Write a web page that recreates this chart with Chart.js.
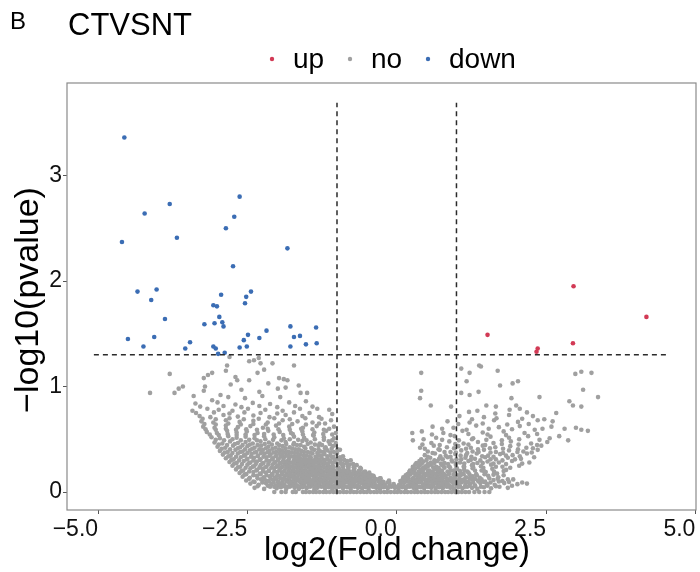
<!DOCTYPE html>
<html>
<head>
<meta charset="utf-8">
<script src="https://cdn.jsdelivr.net/npm/chart.js@4.4.0/dist/chart.umd.min.js"></script>
<style>
  html, body { margin: 0; padding: 0; background: #fff; }
</style>
</head>
<body>
<canvas id="grafico_volcano" width="700" height="572"></canvas>
<script>
const ticksX = [-5, -2.5, 0, 2.5, 5];
const ticksY = [0, 1, 2, 3];

// linhas de corte: |log2FC| = 1 e p = 0.05
const limiarFC = [-1, 1];
const limiarP = 1.301;
const extensaoV = [-0.02, 3.69];
const extensaoH = [-5.07, 4.54];

const pontosUp = [
    [2.96, 1.95], [4.18, 1.66], [1.52, 1.49], [2.95, 1.41], [2.36, 1.36], [2.34, 1.33]
];

const pontosDown = [
    [-4.56, 3.36], [-3.80, 2.73], [-2.63, 2.80], [-4.22, 2.64], [-2.72, 2.61], [-2.86, 2.50],
    [-4.60, 2.37], [-3.68, 2.41], [-1.83, 2.31], [-2.74, 2.14], [-4.34, 1.90], [-4.02, 1.92],
    [-4.11, 1.82], [-2.94, 1.87], [-2.44, 1.90], [-2.52, 1.85], [-2.54, 1.79], [-3.07, 1.77],
    [-3.01, 1.76], [-3.88, 1.64], [-2.97, 1.66], [-3.05, 1.60], [-2.92, 1.61], [-2.90, 1.57],
    [-3.22, 1.59], [-1.78, 1.57], [-1.35, 1.56], [-2.18, 1.53], [-4.50, 1.45], [-4.06, 1.47],
    [-1.72, 1.47], [-1.62, 1.48], [-2.49, 1.49], [-2.56, 1.44], [-2.30, 1.46], [-3.46, 1.42],
    [-3.54, 1.36], [-4.24, 1.38], [-3.07, 1.38], [-3.03, 1.36], [-2.63, 1.37], [-2.51, 1.38],
    [-1.78, 1.38], [-1.52, 1.40], [-1.34, 1.41], [-2.99, 1.31], [-2.88, 1.32]
];

// genes sem diferenca significativa
const pontosNo = [
    [-2.05,0],[-1.93,0],[-1.86,0],[-1.74,0],[-1.69,0],[-1.57,0],[-1.52,0],[-1.46,0],[-1.40,0],[-1.35,0],[-1.29,0],[-1.23,0],[-1.18,0],[-1.12,0],[-1.06,0],[-1.01,0],[-0.95,0],[-0.89,0],[-0.84,0],[-0.78,0],[-0.72,0],[-0.67,0],[-0.61,0],[-0.55,0],[-0.50,0],[-0.44,0],[-0.38,0],[-0.33,0],[-0.27,0],[-0.21,0],[-0.16,0],[-0.10,0],[-0.04,0],[0.01,0],[0.07,0],[0.13,0],[0.18,0],[0.24,0],[0.30,0],[0.35,0],[0.41,0],[0.47,0],[0.52,0],[0.58,0],[0.64,0],[0.69,0],[0.75,0],[0.81,0],[0.86,0],[0.92,0],[0.98,0],[1.03,0],[1.09,0],[1.15,0],[1.21,0],[1.30,0],[1.38,0],[1.47,0],[1.55,0],
    [-2.38,0.04],[-2.22,0.03],[-2.12,0.05],[-2.01,0.035],[-1.94,0.045],[-1.85,0.03],[-1.79,0.05],[-1.71,0.04],[-1.64,0.03],[-1.58,0.045],[-1.51,0.035],[-1.45,0.05],[-1.38,0.03],[-1.33,0.04],[-1.26,0.05],[-1.20,0.035],[-1.14,0.045],[-1.08,0.03],[-1.02,0.04],[-0.96,0.05],[-0.90,0.035],[-0.83,0.045],[-0.77,0.03],[-0.71,0.05],[-0.65,0.04],[-0.58,0.035],[-0.52,0.045],[-0.47,0.03],[-0.40,0.05],[-0.34,0.04],[-0.28,0.03],[-0.22,0.045],[-0.15,0.035],[-0.09,0.05],[-0.03,0.04],[0.03,0.03],[0.09,0.045],[0.15,0.035],[0.22,0.05],[0.28,0.04],[0.33,0.03],[0.40,0.045],[0.46,0.035],[0.52,0.05],[0.58,0.04],[0.65,0.03],[0.71,0.045],[0.77,0.035],[0.84,0.05],[0.90,0.04],[0.96,0.03],[1.03,0.045],[1.10,0.035],[1.18,0.05],[1.26,0.04],[1.35,0.03],[1.46,0.045],[1.58,0.035],[1.72,0.05],[1.86,0.04],
    [-2.33,0.055],[-2.16,0.06],[-2.05,0.05],[-1.97,0.06],[-1.90,0.055],[-1.83,0.05],[-1.76,0.06],[-1.69,0.055],[-1.61,0.05],[-1.55,0.06],[-1.48,0.055],[-1.42,0.06],[-1.36,0.05],[-1.30,0.055],[-1.23,0.06],[-1.17,0.05],[-1.11,0.06],[-1.05,0.055],[-0.99,0.05],[-0.93,0.06],[-0.87,0.055],[-0.80,0.05],[-0.74,0.06],[-0.68,0.055],[-0.62,0.05],[-0.55,0.06],[-0.49,0.055],[-0.43,0.06],[-0.37,0.05],[-0.31,0.055],[-0.25,0.06],[-0.18,0.05],[-0.12,0.055],[-0.06,0.06],[0.00,0.05],[0.06,0.06],[0.12,0.055],[0.18,0.05],[0.25,0.06],[0.31,0.055],[0.37,0.05],[0.43,0.06],[0.49,0.055],[0.55,0.05],[0.61,0.06],[0.68,0.055],[0.74,0.05],[0.80,0.06],[0.87,0.055],[0.93,0.05],[1.00,0.06],[1.06,0.055],[1.14,0.05],[1.22,0.06],[1.31,0.055],[1.41,0.05],[1.52,0.06],[1.66,0.055],[1.93,0.06],
    [-2.45,0.08],[-2.31,0.07],[-2.19,0.085],[-2.10,0.075],[-2.02,0.065],[-1.95,0.08],[-1.88,0.07],[-1.80,0.085],[-1.73,0.075],[-1.67,0.065],[-1.60,0.08],[-1.54,0.09],[-1.47,0.07],[-1.41,0.08],[-1.35,0.065],[-1.29,0.085],[-1.22,0.075],[-1.16,0.07],[-1.10,0.085],[-1.04,0.065],[-0.97,0.08],[-0.91,0.075],[-0.85,0.09],[-0.79,0.07],[-0.72,0.08],[-0.66,0.065],[-0.60,0.085],[-0.53,0.075],[-0.47,0.07],[-0.41,0.085],[-0.35,0.065],[-0.28,0.08],[-0.20,0.07],[-0.12,0.085],[-0.05,0.075],[0.04,0.07],[0.12,0.085],[0.19,0.065],[0.26,0.08],[0.32,0.075],[0.38,0.09],[0.45,0.07],[0.51,0.08],[0.57,0.065],[0.63,0.085],[0.70,0.075],[0.76,0.07],[0.82,0.085],[0.88,0.065],[0.95,0.08],[1.01,0.075],[1.08,0.09],[1.15,0.07],[1.23,0.08],[1.31,0.065],[1.40,0.085],[1.51,0.075],[1.64,0.07],[1.80,0.085],[2.02,0.075],[2.18,0.08],
    [-2.38,0.095],[-2.25,0.09],[-2.14,0.1],[-2.06,0.09],[-1.98,0.095],[-1.91,0.09],[-1.84,0.1],[-1.76,0.095],[-1.70,0.09],[-1.63,0.1],[-1.57,0.095],[-1.50,0.09],[-1.44,0.1],[-1.38,0.095],[-1.32,0.09],[-1.26,0.1],[-1.19,0.095],[-1.13,0.09],[-1.07,0.1],[-1.01,0.095],[-0.94,0.09],[-0.88,0.1],[-0.82,0.095],[-0.76,0.09],[-0.69,0.1],[-0.63,0.095],[-0.57,0.09],[-0.50,0.1],[-0.44,0.095],[-0.37,0.09],[-0.30,0.1],[-0.22,0.095],[-0.15,0.09],[0.08,0.09],[0.16,0.1],[0.22,0.095],[0.29,0.09],[0.35,0.1],[0.41,0.095],[0.48,0.09],[0.54,0.1],[0.60,0.095],[0.66,0.09],[0.73,0.1],[0.79,0.095],[0.85,0.09],[0.92,0.1],[0.98,0.095],[1.05,0.09],[1.12,0.1],[1.20,0.095],[1.28,0.09],[1.37,0.1],[1.46,0.095],[1.57,0.09],[1.71,0.1],[1.88,0.095],[2.10,0.09],
    [-2.52,0.11],[-2.40,0.1],[-2.27,0.12],[-2.16,0.105],[-2.07,0.115],[-1.99,0.1],[-1.91,0.12],[-1.84,0.11],[-1.77,0.1],[-1.70,0.115],[-1.63,0.105],[-1.57,0.125],[-1.50,0.11],[-1.43,0.1],[-1.37,0.12],[-1.31,0.105],[-1.24,0.115],[-1.18,0.1],[-1.12,0.125],[-1.05,0.11],[-0.99,0.1],[-0.93,0.12],[-0.86,0.105],[-0.80,0.115],[-0.74,0.1],[-0.67,0.12],[-0.61,0.11],[-0.55,0.1],[-0.48,0.115],[-0.41,0.105],[-0.33,0.12],[-0.24,0.1],[-0.13,0.11],[0.06,0.105],[0.15,0.12],[0.23,0.1],[0.30,0.115],[0.36,0.105],[0.43,0.12],[0.49,0.11],[0.55,0.1],[0.62,0.115],[0.68,0.105],[0.74,0.12],[0.80,0.1],[0.87,0.11],[0.94,0.125],[1.01,0.105],[1.09,0.115],[1.17,0.1],[1.26,0.12],[1.36,0.11],[1.48,0.1],[1.62,0.115],[1.77,0.105],[1.95,0.12],
    [-2.47,0.125],[-2.33,0.13],[-2.21,0.12],[-2.11,0.13],[-2.02,0.125],[-1.95,0.13],[-1.87,0.12],[-1.80,0.13],[-1.73,0.125],[-1.66,0.12],[-1.60,0.13],[-1.53,0.125],[-1.47,0.13],[-1.40,0.12],[-1.34,0.13],[-1.28,0.125],[-1.21,0.12],[-1.15,0.13],[-1.09,0.125],[-1.02,0.13],[-0.96,0.12],[-0.90,0.13],[-0.83,0.125],[-0.77,0.12],[-0.71,0.13],[-0.64,0.125],[-0.58,0.12],[-0.51,0.13],[-0.44,0.125],[-0.36,0.12],[-0.27,0.13],[0.10,0.12],[0.19,0.13],[0.26,0.125],[0.33,0.12],[0.39,0.13],[0.46,0.125],[0.52,0.12],[0.58,0.13],[0.65,0.125],[0.71,0.12],[0.77,0.13],[0.84,0.125],[0.91,0.12],[0.98,0.13],[1.05,0.125],[1.13,0.12],[1.22,0.13],[1.31,0.125],[1.42,0.12],[1.55,0.13],[1.69,0.125],[1.86,0.12],
    [-2.58,0.145],[-2.46,0.135],[-2.34,0.155],[-2.23,0.14],[-2.13,0.15],[-2.04,0.135],[-1.96,0.155],[-1.88,0.145],[-1.81,0.135],[-1.74,0.15],[-1.67,0.14],[-1.60,0.16],[-1.53,0.145],[-1.47,0.135],[-1.40,0.155],[-1.34,0.14],[-1.27,0.15],[-1.21,0.135],[-1.15,0.16],[-1.08,0.145],[-1.02,0.135],[-0.95,0.155],[-0.89,0.14],[-0.82,0.15],[-0.76,0.135],[-0.69,0.155],[-0.62,0.145],[-0.55,0.135],[-0.47,0.15],[-0.38,0.14],[-0.28,0.13],[0.11,0.14],[0.20,0.155],[0.28,0.135],[0.35,0.15],[0.42,0.14],[0.48,0.16],[0.55,0.145],[0.61,0.135],[0.68,0.15],[0.75,0.14],[0.82,0.155],[0.90,0.135],[0.98,0.145],[1.07,0.16],[1.16,0.14],[1.27,0.15],[1.39,0.135],[1.53,0.155],[1.70,0.14],
    [-2.55,0.165],[-2.40,0.16],[-2.28,0.17],[-2.18,0.16],[-2.08,0.165],[-2.00,0.16],[-1.92,0.17],[-1.85,0.165],[-1.78,0.16],[-1.71,0.17],[-1.64,0.165],[-1.57,0.16],[-1.50,0.17],[-1.44,0.165],[-1.37,0.16],[-1.31,0.17],[-1.24,0.165],[-1.18,0.16],[-1.12,0.17],[-1.05,0.165],[-0.99,0.16],[-0.92,0.17],[-0.86,0.165],[-0.79,0.16],[-0.72,0.17],[-0.65,0.165],[-0.57,0.16],[-0.48,0.165],[-0.39,0.155],[0.15,0.16],[0.23,0.17],[0.31,0.165],[0.38,0.16],[0.45,0.17],[0.52,0.165],[0.59,0.16],[0.66,0.17],[0.73,0.165],[0.80,0.16],[0.87,0.17],[0.95,0.165],[1.03,0.16],[1.12,0.17],[1.22,0.165],[1.34,0.16],[1.47,0.17],[1.62,0.165],[1.79,0.16],
    [-2.63,0.18],[-2.52,0.17],[-2.40,0.19],[-2.29,0.175],[-2.19,0.185],[-2.09,0.17],[-2.00,0.19],[-1.92,0.18],[-1.84,0.17],[-1.77,0.185],[-1.70,0.175],[-1.63,0.195],[-1.56,0.18],[-1.49,0.17],[-1.43,0.19],[-1.36,0.175],[-1.30,0.185],[-1.23,0.17],[-1.17,0.195],[-1.10,0.18],[-1.04,0.17],[-0.97,0.19],[-0.90,0.175],[-0.83,0.185],[-0.76,0.17],[-0.68,0.18],[-0.60,0.175],[-0.51,0.165],[-0.42,0.16],[0.18,0.17],[0.26,0.185],[0.34,0.175],[0.41,0.19],[0.48,0.17],[0.56,0.185],[0.63,0.175],[0.71,0.19],[0.79,0.17],[0.88,0.18],[0.97,0.195],[1.08,0.175],[1.20,0.185],[1.33,0.17],[1.49,0.19],[1.68,0.175],
    [-2.60,0.2],[-2.47,0.195],[-2.35,0.205],[-2.24,0.195],[-2.14,0.2],[-2.05,0.195],[-1.96,0.205],[-1.88,0.2],[-1.81,0.195],[-1.74,0.205],[-1.67,0.2],[-1.60,0.195],[-1.53,0.205],[-1.46,0.2],[-1.40,0.195],[-1.33,0.205],[-1.27,0.2],[-1.20,0.195],[-1.14,0.205],[-1.07,0.2],[-1.00,0.195],[-0.93,0.205],[-0.86,0.2],[-0.79,0.195],[-0.72,0.205],[-0.64,0.2],[-0.55,0.19],[-0.46,0.185],[0.21,0.19],[0.29,0.2],[0.37,0.195],[0.44,0.205],[0.52,0.2],[0.60,0.195],[0.68,0.205],[0.76,0.2],[0.85,0.195],[0.95,0.205],[1.06,0.2],[1.18,0.195],[1.31,0.205],[1.46,0.2],[1.63,0.195],[1.79,0.2],
    [-2.69,0.215],[-2.57,0.205],[-2.45,0.225],[-2.34,0.21],[-2.24,0.22],[-2.14,0.205],[-2.05,0.225],[-1.96,0.215],[-1.88,0.205],[-1.80,0.22],[-1.73,0.21],[-1.66,0.23],[-1.59,0.215],[-1.52,0.205],[-1.45,0.225],[-1.38,0.21],[-1.31,0.22],[-1.25,0.205],[-1.18,0.23],[-1.11,0.215],[-1.04,0.205],[-0.97,0.225],[-0.89,0.21],[-0.81,0.22],[-0.72,0.205],[-0.62,0.2],[-0.53,0.195],[0.22,0.205],[0.31,0.22],[0.40,0.21],[0.47,0.225],[0.55,0.205],[0.63,0.22],[0.72,0.21],[0.80,0.23],[0.90,0.205],[1.01,0.22],[1.13,0.21],[1.27,0.225],[1.42,0.205],[1.60,0.22],[1.83,0.21],
    [-2.66,0.235],[-2.53,0.23],[-2.41,0.24],[-2.30,0.23],[-2.20,0.235],[-2.10,0.23],[-2.01,0.24],[-1.93,0.235],[-1.85,0.23],[-1.78,0.24],[-1.70,0.235],[-1.63,0.23],[-1.55,0.24],[-1.48,0.235],[-1.41,0.23],[-1.34,0.24],[-1.27,0.235],[-1.20,0.23],[-1.13,0.24],[-1.06,0.235],[-0.98,0.23],[-0.90,0.24],[-0.81,0.235],[-0.71,0.225],[-0.60,0.22],[0.27,0.225],[0.36,0.235],[0.44,0.23],[0.52,0.24],[0.61,0.235],[0.70,0.23],[0.79,0.24],[0.89,0.235],[1.00,0.23],[1.13,0.24],[1.28,0.235],[1.45,0.23],[1.66,0.24],[1.90,0.23],
    [-2.75,0.25],[-2.62,0.24],[-2.50,0.26],[-2.39,0.245],[-2.28,0.255],[-2.18,0.24],[-2.08,0.26],[-1.99,0.25],[-1.91,0.24],[-1.83,0.255],[-1.75,0.245],[-1.67,0.265],[-1.59,0.25],[-1.52,0.24],[-1.44,0.26],[-1.37,0.245],[-1.30,0.255],[-1.22,0.24],[-1.15,0.265],[-1.07,0.25],[-0.99,0.24],[-0.91,0.255],[-0.82,0.245],[-0.72,0.235],[-0.61,0.23],[0.27,0.24],[0.38,0.255],[0.48,0.245],[0.57,0.26],[0.66,0.24],[0.76,0.255],[0.87,0.245],[0.99,0.26],[1.12,0.24],[1.26,0.255],[1.41,0.245],[1.58,0.26],[1.77,0.24],[2.05,0.25],
    [-2.72,0.27],[-2.59,0.265],[-2.47,0.275],[-2.36,0.265],[-2.25,0.27],[-2.15,0.265],[-2.05,0.275],[-1.96,0.27],[-1.88,0.265],[-1.80,0.275],[-1.72,0.27],[-1.64,0.265],[-1.56,0.275],[-1.48,0.27],[-1.40,0.265],[-1.32,0.275],[-1.24,0.27],[-1.16,0.265],[-1.08,0.275],[-0.99,0.27],[-0.90,0.265],[-0.79,0.26],[-0.67,0.255],[0.31,0.26],[0.42,0.27],[0.52,0.265],[0.63,0.275],[0.74,0.27],[0.86,0.265],[0.99,0.275],[1.13,0.27],[1.28,0.265],[1.44,0.275],[1.62,0.27],[1.83,0.265],[2.10,0.27],
    [-2.80,0.285],[-2.68,0.275],[-2.56,0.295],[-2.45,0.28],[-2.34,0.29],[-2.23,0.275],[-2.13,0.295],[-2.03,0.285],[-1.94,0.275],[-1.85,0.29],[-1.76,0.28],[-1.68,0.3],[-1.60,0.285],[-1.52,0.275],[-1.44,0.295],[-1.36,0.28],[-1.28,0.29],[-1.20,0.275],[-1.11,0.295],[-1.03,0.285],[-0.94,0.275],[-0.84,0.27],[-0.73,0.265],[0.33,0.275],[0.45,0.29],[0.57,0.28],[0.68,0.295],[0.80,0.275],[0.93,0.29],[1.06,0.28],[1.20,0.295],[1.35,0.275],[1.52,0.29],[1.71,0.28],[1.93,0.295],[2.22,0.28],
    [-2.77,0.305],[-2.64,0.3],[-2.51,0.31],[-2.40,0.3],[-2.29,0.305],[-2.18,0.3],[-2.08,0.31],[-1.99,0.305],[-1.90,0.3],[-1.81,0.31],[-1.72,0.305],[-1.64,0.3],[-1.56,0.31],[-1.48,0.305],[-1.40,0.3],[-1.31,0.31],[-1.22,0.305],[-1.13,0.3],[-1.04,0.31],[-0.94,0.305],[-0.83,0.295],[0.38,0.295],[0.50,0.305],[0.63,0.3],[0.77,0.31],[0.92,0.3],[1.08,0.31],[1.24,0.305],[1.40,0.3],[1.57,0.31],[1.77,0.3],[1.98,0.31],
    [-2.86,0.32],[-2.73,0.31],[-2.61,0.33],[-2.50,0.315],[-2.39,0.325],[-2.28,0.31],[-2.18,0.33],[-2.08,0.32],[-1.98,0.31],[-1.89,0.325],[-1.80,0.315],[-1.71,0.335],[-1.62,0.32],[-1.53,0.31],[-1.44,0.33],[-1.35,0.315],[-1.26,0.325],[-1.17,0.31],[-1.08,0.33],[-0.98,0.315],[-0.88,0.305],[-0.77,0.3],[0.41,0.31],[0.56,0.325],[0.71,0.315],[0.85,0.33],[1.00,0.31],[1.15,0.325],[1.31,0.315],[1.48,0.33],[1.66,0.31],[1.86,0.325],[2.08,0.315],[2.30,0.33],
    [-2.82,0.34],[-2.69,0.335],[-2.56,0.345],[-2.44,0.335],[-2.33,0.34],[-2.23,0.335],[-2.13,0.345],[-2.03,0.34],[-1.94,0.335],[-1.85,0.345],[-1.76,0.34],[-1.66,0.335],[-1.56,0.345],[-1.46,0.34],[-1.36,0.335],[-1.26,0.345],[-1.16,0.34],[-1.06,0.335],[-0.95,0.33],[0.52,0.335],[0.73,0.34],[0.90,0.335],[1.07,0.345],[1.25,0.335],[1.43,0.34],[1.62,0.335],[1.83,0.345],[2.06,0.34],
    [-2.91,0.355],[-2.78,0.345],[-2.66,0.365],[-2.54,0.35],[-2.43,0.36],[-2.32,0.345],[-2.21,0.365],[-2.11,0.355],[-2.01,0.345],[-1.91,0.36],[-1.81,0.35],[-1.71,0.37],[-1.61,0.355],[-1.51,0.345],[-1.41,0.365],[-1.31,0.35],[-1.21,0.36],[-1.11,0.345],[-1.01,0.365],[-0.90,0.34],[0.47,0.35],[0.64,0.365],[0.82,0.345],[0.98,0.36],[1.16,0.35],[1.34,0.365],[1.53,0.345],[1.73,0.36],[1.94,0.35],[2.18,0.365],
    [-2.88,0.375],[-2.75,0.37],[-2.62,0.38],[-2.50,0.37],[-2.38,0.375],[-2.27,0.37],[-2.16,0.38],[-2.06,0.375],[-1.96,0.37],[-1.86,0.38],[-1.76,0.375],[-1.66,0.37],[-1.55,0.38],[-1.44,0.375],[-1.33,0.37],[-1.22,0.38],[-1.11,0.375],[-1.00,0.37],[0.60,0.37],[0.80,0.38],[0.99,0.375],[1.18,0.37],[1.37,0.38],[1.57,0.375],[1.78,0.37],[2.02,0.38],[2.26,0.375],
    [-2.96,0.39],[-2.83,0.38],[-2.70,0.4],[-2.58,0.385],[-2.46,0.395],[-2.35,0.38],[-2.24,0.4],[-2.13,0.39],[-2.02,0.38],[-1.92,0.395],[-1.81,0.385],[-1.70,0.405],[-1.60,0.39],[-1.49,0.38],[-1.38,0.4],[-1.27,0.385],[-1.16,0.395],[-1.05,0.38],[-0.95,0.4],[0.52,0.385],[0.72,0.4],[0.90,0.38],[1.08,0.395],[1.27,0.385],[1.46,0.4],[1.66,0.38],[1.88,0.395],[2.12,0.385],[2.36,0.4],
    [-2.93,0.41],[-2.79,0.405],[-2.66,0.415],[-2.54,0.405],[-2.42,0.41],[-2.30,0.405],[-2.19,0.415],[-2.08,0.41],[-1.97,0.405],[-1.86,0.415],[-1.75,0.41],[-1.64,0.405],[-1.53,0.415],[-1.42,0.41],[-1.31,0.405],[-1.20,0.415],[-1.09,0.41],[-0.99,0.405],[0.47,0.41],[0.70,0.405],[0.96,0.415],[1.16,0.41],[1.36,0.405],[1.56,0.415],[1.78,0.41],[2.03,0.405],[2.28,0.415],
    [-3.00,0.43],[-2.87,0.42],[-2.74,0.44],[-2.62,0.425],[-2.50,0.435],[-2.38,0.42],[-2.27,0.44],[-2.15,0.43],[-2.03,0.42],[-1.91,0.435],[-1.79,0.425],[-1.67,0.445],[-1.55,0.43],[-1.43,0.42],[-1.31,0.44],[-1.19,0.425],[-1.07,0.435],[0.39,0.42],[0.62,0.44],[0.84,0.425],[1.03,0.435],[1.24,0.42],[1.44,0.44],[1.65,0.425],[1.90,0.435],[2.17,0.42],[2.42,0.44],
    [-2.98,0.45],[-2.84,0.445],[-2.71,0.455],[-2.58,0.445],[-2.46,0.45],[-2.33,0.445],[-2.21,0.455],[-2.09,0.45],[-1.97,0.445],[-1.85,0.455],[-1.73,0.45],[-1.61,0.445],[-1.49,0.455],[-1.37,0.45],[-1.25,0.445],[-1.12,0.455],[-1.02,0.445],[0.43,0.45],[0.72,0.445],[0.98,0.455],[1.20,0.45],[1.48,0.445],[1.76,0.455],[2.04,0.45],[2.35,0.445],
    [-3.05,0.47],[-2.92,0.46],[-2.79,0.48],[-2.66,0.465],[-2.53,0.475],[-2.41,0.46],[-2.28,0.48],[-2.14,0.47],[-2.00,0.46],[-1.86,0.475],[-1.72,0.465],[-1.58,0.485],[-1.44,0.47],[-1.29,0.46],[-1.14,0.48],[-1.02,0.465],[0.27,0.49],[0.58,0.465],[0.88,0.48],[1.12,0.46],[1.36,0.475],[1.62,0.465],[1.91,0.48],[2.25,0.46],[2.52,0.475],
    [-3.03,0.495],[-2.89,0.49],[-2.75,0.5],[-2.61,0.49],[-2.47,0.495],[-2.34,0.49],[-2.20,0.5],[-2.07,0.495],[-1.93,0.49],[-1.79,0.5],[-1.65,0.495],[-1.51,0.49],[-1.37,0.5],[-1.22,0.495],[-1.08,0.49],[0.45,0.5],[0.76,0.495],[1.04,0.49],[1.26,0.5],[1.50,0.495],[1.76,0.49],[2.05,0.5],[2.39,0.495],
    [-3.10,0.52],[-2.96,0.51],[-2.82,0.53],[-2.68,0.515],[-2.53,0.525],[-2.38,0.51],[-2.22,0.53],[-2.05,0.52],[-1.89,0.51],[-1.72,0.525],[-1.55,0.515],[-1.39,0.535],[-1.22,0.52],[-1.05,0.51],[0.26,0.56],[0.66,0.515],[0.97,0.53],[1.28,0.51],[1.57,0.525],[1.88,0.515],[2.20,0.53],[2.56,0.51],[2.87,0.49],
    [-3.13,0.545],[-2.98,0.54],[-2.83,0.55],[-2.68,0.54],[-2.53,0.545],[-2.38,0.54],[-2.22,0.55],[-2.06,0.545],[-1.90,0.54],[-1.74,0.55],[-1.57,0.545],[-1.40,0.54],[-1.23,0.55],[-1.08,0.545],[0.59,0.545],[0.90,0.54],[1.20,0.55],[1.52,0.545],[1.83,0.54],[2.35,0.55],[2.72,0.53],
    [-3.18,0.57],[-3.01,0.56],[-2.84,0.58],[-2.68,0.565],[-2.51,0.575],[-2.33,0.56],[-2.15,0.58],[-1.96,0.57],[-1.77,0.56],[-1.58,0.575],[-1.38,0.565],[-1.18,0.58],[-1.02,0.56],[0.42,0.575],[0.78,0.56],[1.10,0.58],[1.44,0.565],[1.79,0.575],[2.14,0.56],[2.44,0.6],[3.09,0.59],
    [-3.20,0.595],[-3.03,0.59],[-2.86,0.6],[-2.69,0.59],[-2.52,0.595],[-2.34,0.59],[-2.16,0.6],[-1.98,0.595],[-1.79,0.59],[-1.60,0.6],[-1.41,0.595],[-1.22,0.59],[0.76,0.6],[1.17,0.59],[1.54,0.6],[1.93,0.595],[2.31,0.59],[2.81,0.6],
    [-3.24,0.62],[-3.05,0.61],[-2.86,0.63],[-2.66,0.615],[-2.45,0.625],[-2.24,0.61],[-2.02,0.63],[-1.80,0.62],[-1.57,0.61],[-1.34,0.625],[-1.13,0.6],[0.60,0.62],[0.95,0.61],[1.33,0.63],[1.71,0.615],[2.06,0.625],[2.59,0.62],[3.00,0.61],[3.20,0.58],
    [-3.22,0.645],[-3.03,0.64],[-2.82,0.65],[-2.61,0.64],[-2.40,0.645],[-2.19,0.64],[-1.97,0.65],[-1.75,0.645],[-1.52,0.64],[-1.30,0.65],[-1.05,0.62],[1.03,0.645],[1.44,0.65],[1.85,0.64],[2.21,0.645],
    [-3.27,0.67],[-3.07,0.66],[-2.86,0.68],[-2.63,0.665],[-2.40,0.675],[-2.16,0.66],[-1.91,0.68],[-1.66,0.67],[-1.41,0.66],[-1.20,0.65],[-1.10,0.68],[0.85,0.67],[1.22,0.66],[1.63,0.68],[2.03,0.665],[2.36,0.68],[2.61,0.67],
    [-3.25,0.695],[-3.03,0.69],[-2.80,0.7],[-2.56,0.69],[-2.31,0.695],[-2.05,0.7],[-1.79,0.69],[-1.53,0.7],[-1.26,0.695],[1.26,0.69],[1.67,0.7],[2.10,0.695],[2.47,0.69],
    [-3.30,0.72],[-3.12,0.71],[-2.90,0.73],[-2.66,0.715],[-2.40,0.725],[-2.13,0.71],[-1.86,0.73],[-1.58,0.72],[-1.30,0.71],[-1.08,0.74],[1.05,0.72],[1.46,0.71],[1.88,0.73],[2.28,0.72],[2.67,0.75],
    [-3.36,0.75],[-3.06,0.755],[-2.80,0.745],[-2.55,0.755],[-2.28,0.75],[-2.00,0.745],[-1.72,0.755],[-1.46,0.75],[1.21,0.76],[1.65,0.745],[2.18,0.755],
    [-3.42,0.77],[-3.17,0.79],[-2.98,0.78],[-2.75,0.77],[-2.49,0.79],[-2.20,0.78],[-1.91,0.77],[-1.62,0.79],[-1.33,0.79],[-1.13,0.78],[0.91,0.81],[1.35,0.77],[1.89,0.78],[2.06,0.79],[2.95,0.82],
    [-3.29,0.81],[-2.90,0.815],[-2.60,0.805],[-2.30,0.815],[-2.00,0.805],[-1.70,0.815],[-1.41,0.81],
    [-3.37,0.84],[-3.00,0.85],[-2.70,0.83],[-2.41,0.845],[-2.12,0.835],[-1.80,0.85],[-1.52,0.86],[0.57,0.82],[1.50,0.82],[1.66,0.81],[2.00,0.82],[2.89,0.86],[3.09,0.81],
    [-3.40,0.91],[-3.09,0.87],[-2.82,0.9],[-2.54,0.89],[-2.25,0.91],[-1.95,0.9],[-1.61,0.94],[0.39,0.89],[1.08,0.94],[1.22,0.92],[1.92,0.89],[2.39,0.9],[3.37,0.9],
    [-4.13,0.94],[-3.72,0.94],[-3.23,0.96],[-2.95,0.92],[-2.60,0.97],[-2.30,0.95],[-1.99,0.98],[-1.64,1.01],[0.41,0.96],[1.37,0.95],[3.12,0.97],
    [-3.65,0.98],[-3.58,1.0],[-3.21,1.0],[-2.78,1.02],[-2.47,1.06],[-2.15,1.03],[-1.86,0.99],[-1.50,0.94],[1.17,1.05],[1.73,1.01],[1.94,1.03],[2.03,1.05],
    [-3.23,1.08],[-3.16,1.11],[-2.70,1.09],[-2.67,1.06],[-1.97,1.08],[-1.89,1.07],[-1.83,1.06],[1.22,1.13],
    [-3.80,1.12],[-3.09,1.13],[-2.86,1.15],[-2.33,1.13],[-2.22,1.16],[0.41,1.13],[1.08,1.17],[1.69,1.15],[2.99,1.12],[3.09,1.14],[3.26,1.13],
    [-2.84,1.20],[-2.39,1.25],[-2.28,1.22],[-2.08,1.22],[-1.72,1.20],[1.38,1.20],[1.41,1.19],[-2.80,1.28],[-2.47,1.24],[-2.31,1.27]
];

const corUp = '#d23a55';
const corNo = '#a0a0a0';
const corDown = '#3b6db4';
const fonte = '"Liberation Sans", Arial, sans-serif';

function paraXY(lista) {
    return lista.map((p) => ({ x: p[0], y: p[1] }));
}

function formatarX(value) {
    const texto = Math.abs(value).toFixed(1);
    return value < 0 ? '\u2212' + texto : texto;
}

function linhaTracejada(dados) {
    return {
        data: dados,
        showLine: true,
        pointRadius: 0,
        borderColor: '#2b2b2b',
        borderWidth: 1.5,
        borderDash: [5, 4],
        order: 0
    };
}

// caixa do painel, titulo, legenda e titulos dos eixos
const textosGrafico = {
    id: 'textosGrafico',
    afterDraw(chart) {
        const ctx = chart.ctx;
        const area = chart.chartArea;
        ctx.save();
        ctx.strokeStyle = '#8a8a8a';
        ctx.lineWidth = 1.2;
        ctx.strokeRect(area.left, area.top, area.right - area.left, area.bottom - area.top);

        ctx.fillStyle = '#000';
        ctx.textBaseline = 'alphabetic';
        ctx.textAlign = 'left';
        ctx.font = '24px ' + fonte;
        ctx.fillText('B', 10, 29);
        ctx.font = '31px ' + fonte;
        ctx.fillText('CTVSNT', 68, 35);

        const legenda = [
            { nome: 'up', cor: corUp, x: 272 },
            { nome: 'no', cor: corNo, x: 350 },
            { nome: 'down', cor: corDown, x: 428 }
        ];
        ctx.font = '28px ' + fonte;
        legenda.forEach((item) => {
            ctx.fillStyle = item.cor;
            ctx.beginPath();
            ctx.arc(item.x, 59, 2.2, 0, Math.PI * 2);
            ctx.fill();
            ctx.fillStyle = '#000';
            ctx.fillText(item.nome, item.x + 21, 68);
        });

        ctx.textAlign = 'center';
        ctx.font = '33px ' + fonte;
        ctx.fillText('log2(Fold change)', 397, 560);
        ctx.translate(38, 300);
        ctx.rotate(-Math.PI / 2);
        ctx.font = '34px ' + fonte;
        ctx.fillText('\u2212log10(pvalue)', 0, 0);
        ctx.restore();
    }
};

new Chart(document.getElementById('grafico_volcano'), {
    type: 'scatter',
    data: {
        datasets: [
            linhaTracejada([{ x: limiarFC[0], y: extensaoV[0] }, { x: limiarFC[0], y: extensaoV[1] }]),
            linhaTracejada([{ x: limiarFC[1], y: extensaoV[0] }, { x: limiarFC[1], y: extensaoV[1] }]),
            linhaTracejada([{ x: extensaoH[0], y: limiarP }, { x: extensaoH[1], y: limiarP }]),
            {
                label: 'up',
                data: paraXY(pontosUp),
                backgroundColor: corUp,
                pointRadius: 2.3,
                borderWidth: 0,
                order: 1
            },
            {
                label: 'down',
                data: paraXY(pontosDown),
                backgroundColor: corDown,
                pointRadius: 2.3,
                borderWidth: 0,
                order: 1
            },
            {
                label: 'no',
                data: paraXY(pontosNo),
                backgroundColor: corNo,
                pointRadius: 2.3,
                borderWidth: 0,
                order: 2
            }
        ]
    },
    options: {
        responsive: false,
        animation: false,
        events: [],
        layout: {
            padding: { left: 0, right: 3, top: 83, bottom: 0 }
        },
        plugins: {
            legend: { display: false },
            tooltip: { enabled: false }
        },
        scales: {
            x: {
                type: 'linear',
                min: -5.52,
                max: 5.01,
                afterBuildTicks: (scale) => {
                    scale.ticks = ticksX.map((v) => ({ value: v }));
                },
                afterFit: (scale) => {
                    scale.height = 62;
                    scale.paddingLeft = 0;
                    scale.paddingRight = 0;
                },
                grid: {
                    drawOnChartArea: false,
                    drawTicks: true,
                    tickLength: 4,
                    color: '#555'
                },
                border: { display: false },
                ticks: {
                    padding: 2,
                    align: 'end',
                    color: '#111',
                    font: { family: fonte, size: 23 },
                    maxRotation: 0,
                    callback: formatarX
                }
            },
            y: {
                type: 'linear',
                min: -0.17,
                max: 3.877,
                afterBuildTicks: (scale) => {
                    scale.ticks = ticksY.map((v) => ({ value: v }));
                },
                afterFit: (scale) => {
                    scale.width = 67;
                    scale.paddingTop = 0;
                    scale.paddingBottom = 0;
                },
                grid: {
                    drawOnChartArea: false,
                    drawTicks: true,
                    tickLength: 4,
                    color: '#555'
                },
                border: { display: false },
                ticks: {
                    padding: 1,
                    color: '#111',
                    font: { family: fonte, size: 23 },
                    callback: (value) => String(value)
                }
            }
        }
    },
    plugins: [textosGrafico]
});
</script>
</body>
</html>
